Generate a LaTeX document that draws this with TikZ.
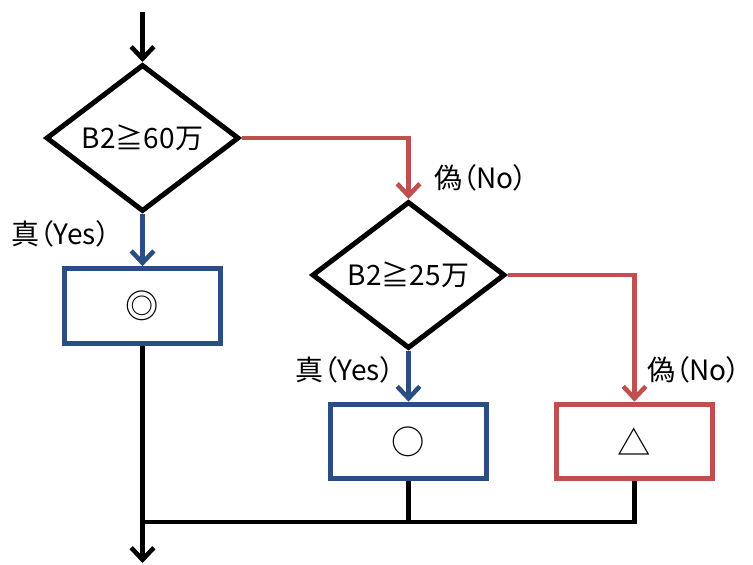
\documentclass[tikz,border=0pt]{standalone}
\usepackage{fontspec}
\newfontfamily\jp{Noto Sans CJK JP}[RawFeature={+palt}]
\usetikzlibrary{shapes.geometric,arrows.meta}
\definecolor{fcblue}{RGB}{40,78,130}
\definecolor{fcred}{RGB}{192,80,77}
\tikzset{
  txt/.style={font=\jp\fontsize{21}{25}\selectfont, text=black},
  dia/.style={diamond, draw=black, line width=3.75pt, minimum width=144.75pt, minimum height=96.75pt, inner sep=0pt, txt},
  boxnode/.style={rectangle, draw, line width=3.75pt, minimum width=117.5pt, minimum height=56pt, inner sep=0pt, font=\jp\fontsize{25}{28}\selectfont, text=black},
  conn/.style={line width=3.4pt},
  arr/.style={-{Straight Barb[length=9pt,width=17pt]}},
  lbl/.style={inner sep=0pt, txt},
}
\begin{document}
\begin{tikzpicture}[x=0.75pt,y=-0.75pt]
\useasboundingbox (0,0) rectangle (753,564);
\node[dia] (d1) at (142.5,138) {B2≧60万};
\node[dia] (d2) at (408.5,275) {B2≧25万};
\node[boxnode,draw=fcblue] (b1) at (142.5,306) {◎};
\node[boxnode,draw=fcblue] (b2) at (408.5,441.5) {○};
\node[boxnode,draw=fcred] (b3) at (634.5,441.5) {△};
\node[lbl] (y1) at (61,234) {真（Yes）};
\node[lbl] (n1) at (481,178) {偽（No）};
\node[lbl] (y2) at (345,370) {真（Yes）};
\node[lbl] (n2) at (694,370) {偽（No）};
\coordinate (in) at (142.5,12);
\coordinate (join) at (142.5,522);
\coordinate (out) at (142.5,563);
\draw[conn,arr] (in) -- (d1.north);
\draw[conn,arr,fcred] (d1.east) -| (d2.north);
\draw[conn,arr,fcblue] (d1.south) -- (b1.north);
\draw[conn,arr,fcblue] (d2.south) -- (b2.north);
\draw[conn,arr,fcred] (d2.east) -| (b3.north);
\draw[conn] (b2.south) -- (b2.south |- join);
\draw[conn] (b3.south) |- (join);
\draw[conn,arr] (b1.south) -- (out);
\end{tikzpicture}
\end{document}
